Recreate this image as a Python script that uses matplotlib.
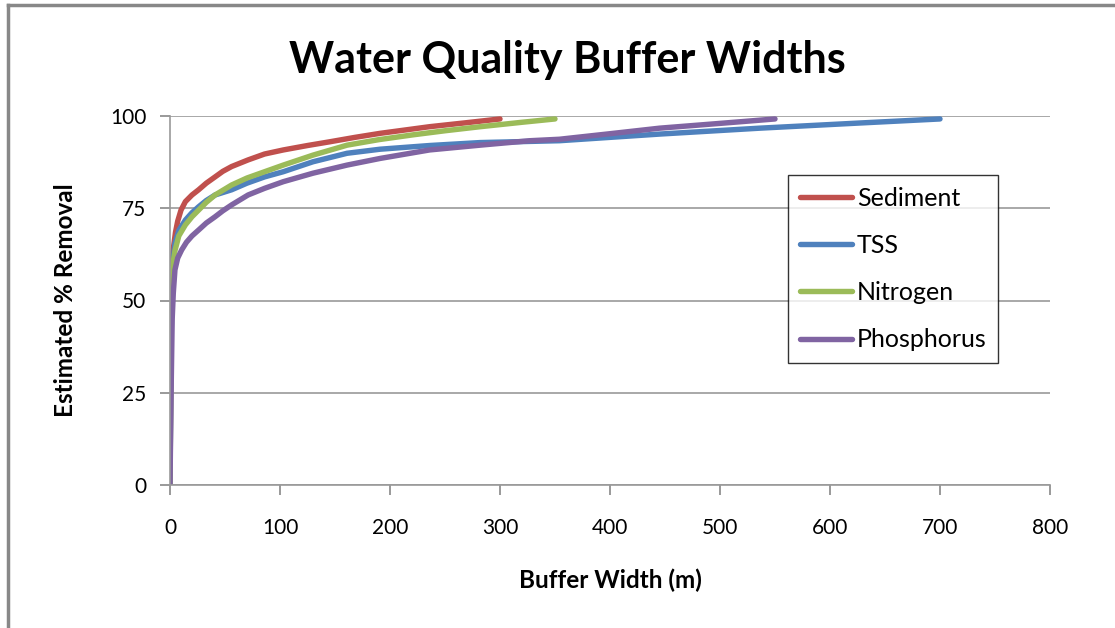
import matplotlib.pyplot as plt
from matplotlib.lines import Line2D

plt.rcParams["font.family"] = ["Lato", "DejaVu Sans"]

# values (buffer width in m, % removal)
sed_x = [0, 1, 2, 3, 5, 7, 10, 14, 20, 26, 33, 41, 48, 56, 71, 86, 103, 125, 145, 168, 191, 236, 270, 300]
sed_y = [0, 54.6, 60.5, 64.0, 68.5, 71.5, 74.5, 76.8, 78.6, 80.0, 81.8, 83.5, 85.0, 86.3, 88.1, 89.7, 90.8, 92.0, 93.0, 94.2, 95.3, 97.1, 98.2, 99.2]

tss_x = [0, 1, 2, 3, 4.5, 8, 14, 20, 26, 33, 41, 56, 70, 86, 103, 130, 161, 191, 236, 282, 354, 445, 536, 627, 700]
tss_y = [0, 40, 55, 61.5, 65.5, 69.0, 71.8, 73.8, 75.4, 77.1, 78.6, 80.0, 81.8, 83.5, 84.9, 87.6, 89.9, 91.0, 92.0, 92.8, 93.3, 95.1, 96.7, 98.1, 99.2]

nit_x = [0, 1, 1.5, 3, 4.5, 8, 14, 20, 26, 33, 41, 56, 70, 86, 103, 130, 161, 190, 221, 250, 282, 320, 350]
nit_y = [0, 35, 56.5, 60.5, 63.5, 67.5, 70.5, 72.7, 74.5, 76.6, 78.6, 81.3, 83.2, 84.9, 86.7, 89.4, 92.1, 93.6, 94.9, 96.0, 97.1, 98.3, 99.2]

pho_x = [0, 1, 2, 3, 4.5, 7, 10.6, 15, 20, 26, 33, 41, 48, 56, 71, 86, 103, 130, 161, 191, 236, 282, 327, 354, 400, 445, 500, 550]
pho_y = [0, 25, 45, 52, 58.3, 61.5, 63.7, 65.8, 67.5, 69.1, 71.0, 72.7, 74.3, 75.9, 78.6, 80.4, 82.2, 84.5, 86.7, 88.5, 90.8, 92.1, 93.3, 93.7, 95.2, 96.7, 98.0, 99.2]

labels = ["Sediment", "TSS", "Nitrogen", "Phosphorus"]
colors = ["#C0504D", "#4F81BD", "#9BBB59", "#8064A2"]
xticks = [0, 100, 200, 300, 400, 500, 600, 700, 800]
yticks = [0, 25, 50, 75, 100]

fig = plt.figure(figsize=(11.15, 6.28), dpi=100)
ax = fig.add_axes([170 / 1115, 143 / 628, 880 / 1115, 369 / 628])

series = [(sed_x, sed_y), (tss_x, tss_y), (nit_x, nit_y), (pho_x, pho_y)]
for (xs, ys), lab, c in zip(series, labels, colors):
    ax.plot(xs, ys, color=c, lw=3.9, label=lab, solid_capstyle="round", solid_joinstyle="round")

ax.set_xlim(0, 800)
ax.set_ylim(0, 100)
ax.set_xticks(xticks)
ax.set_yticks(yticks)
ax.tick_params(axis="both", labelsize=15, length=7, color="#888888", width=1.2)
ax.tick_params(axis="x", pad=17)
ax.tick_params(axis="y", pad=10)
ax.grid(axis="y", color="#999999", lw=1.2)
ax.set_axisbelow(True)
for s in ["top", "right"]:
    ax.spines[s].set_visible(False)
for s in ["left", "bottom"]:
    ax.spines[s].set_color("#999999")
    ax.spines[s].set_linewidth(1.2)

ax.set_xlabel("Buffer Width (m)", fontsize=17.5, fontweight="bold", labelpad=22)
ax.set_ylabel("Estimated % Removal", fontsize=17.5, fontweight="bold", labelpad=24)
fig.text(567 / 1115, 1 - 60 / 628, "Water Quality Buffer Widths", fontsize=31,
         fontweight="bold", ha="center", va="center")

leg = ax.legend(loc="upper left", bbox_to_anchor=(618 / 880, 310 / 369), fontsize=18,
                frameon=True, fancybox=False, handlelength=2.1, handletextpad=0.2,
                labelspacing=0.97, borderpad=0.46, borderaxespad=0)
leg.get_frame().set_edgecolor("black")
leg.get_frame().set_linewidth(1.0)

# frame of the chart area
fig.add_artist(Line2D([8 / 1115, 1], [1 - 5 / 628, 1 - 5 / 628], color="#888888", lw=2.5))
fig.add_artist(Line2D([8 / 1115, 8 / 1115], [0, 1 - 5 / 628], color="#888888", lw=2.5))

fig.savefig("out.png", dpi=100)
